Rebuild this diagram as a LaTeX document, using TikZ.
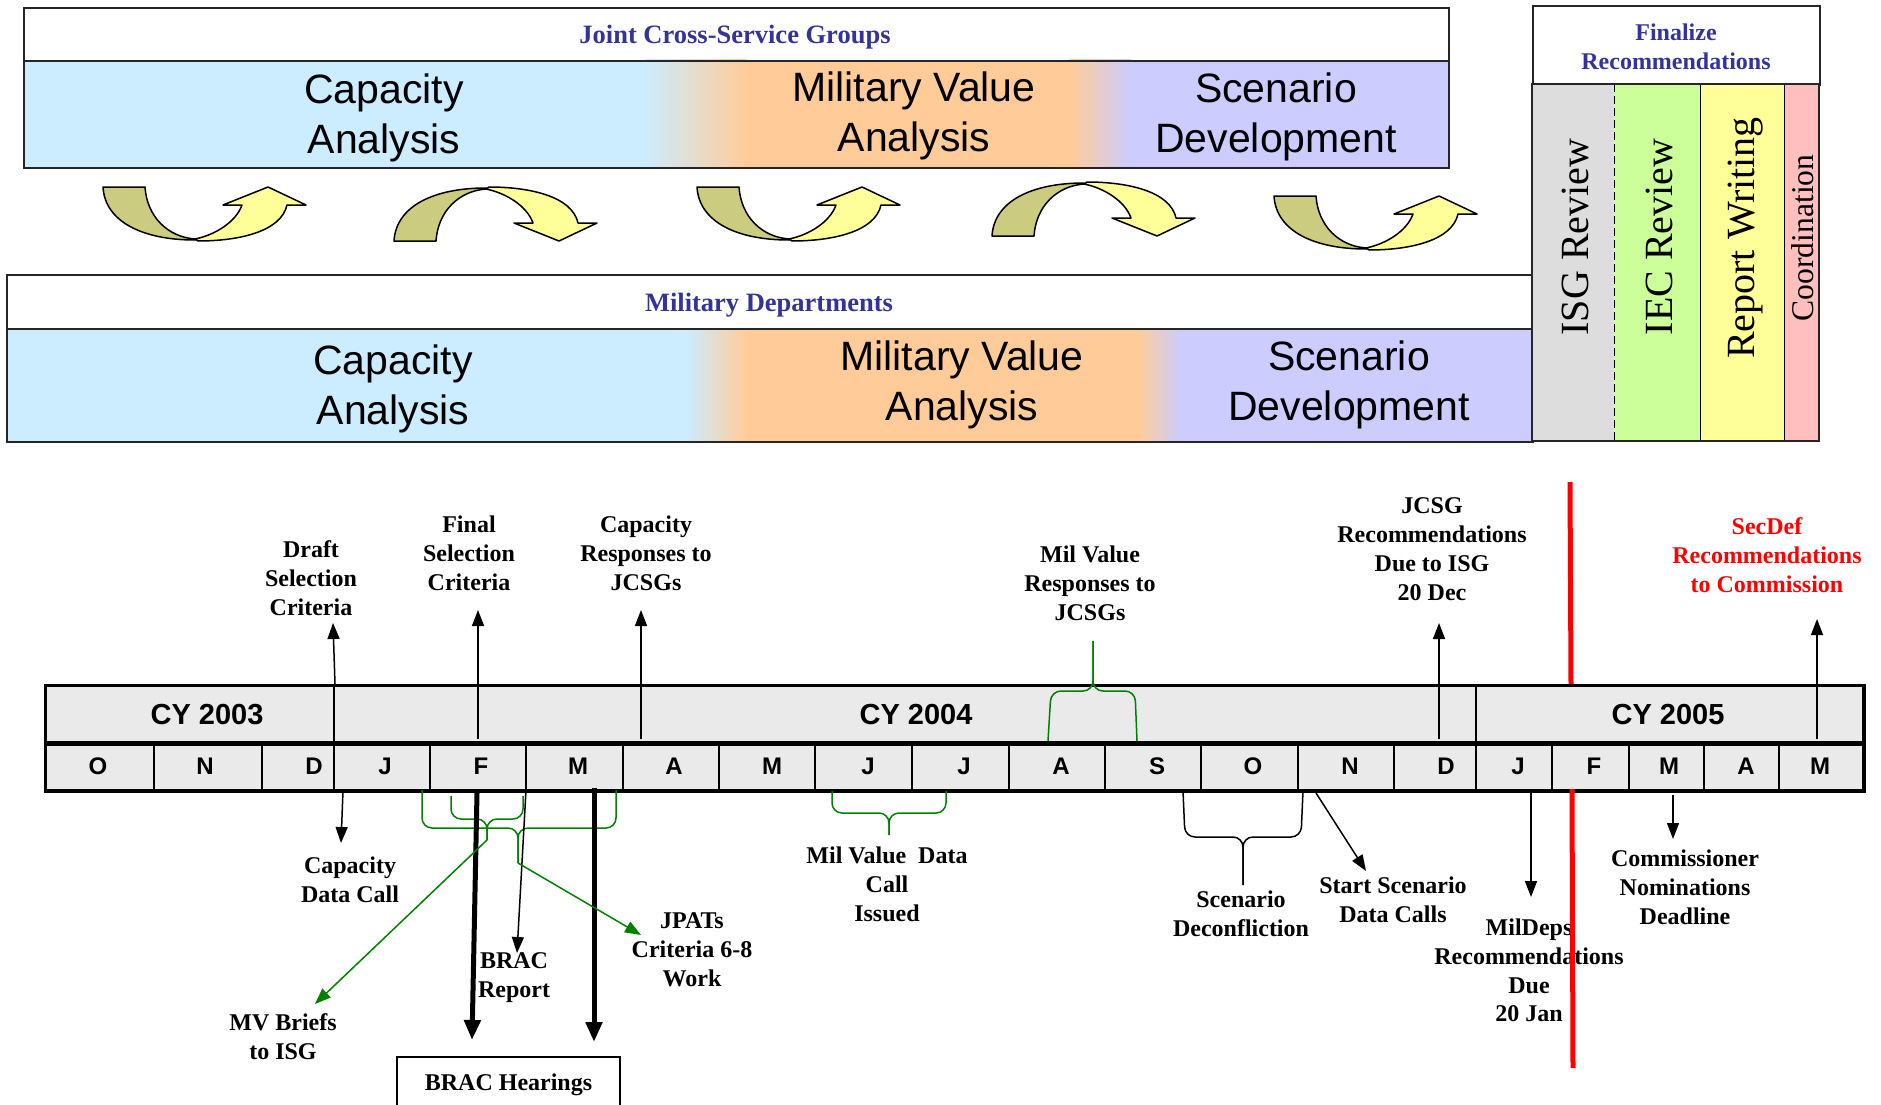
\documentclass[tikz,border=0pt]{standalone}
\usepackage{fontspec}
\setmainfont{Liberation Serif}
\newfontfamily\arialf{Liberation Sans}
\usetikzlibrary{arrows.meta}
\definecolor{hdrblue}{HTML}{333399}
\definecolor{bandblue}{HTML}{CCECFF}
\definecolor{bandorange}{HTML}{FFCC99}
\definecolor{bandlav}{HTML}{CCCCFF}
\definecolor{olivearr}{HTML}{CCCC80}
\definecolor{yellowarr}{HTML}{FFFF99}
\definecolor{isggray}{HTML}{DDDDDD}
\definecolor{iecgreen}{HTML}{CCFF99}
\definecolor{rwyellow}{HTML}{FFFF99}
\definecolor{coordpink}{HTML}{FFBFBF}
\definecolor{tlgray}{HTML}{EAEAEA}
\definecolor{brgreen}{HTML}{008000}
\newcommand\arrbody{%
  \filldraw[olivefill] (0,0) -- (42,0) .. controls (44,30) and (65,50) .. (92,52)
     -- (92,53) .. controls (40,53) and (2,35) .. (0,0) -- cycle;
  \filldraw[yellowfill] (92,52) .. controls (112,48) and (133,35) .. (139,18)
     -- (120,18) -- (165,0) -- (203,18) -- (184,18)
     .. controls (178,45) and (135,54) .. (95,54) -- cycle;}
\tikzset{
  olivefill/.style={fill=olivearr, draw=black, line width=1.5, line join=round},
  yellowfill/.style={fill=yellowarr, draw=black, line width=1.5, line join=round},
  uturnarr/.pic={\arrbody},
  overarr/.pic={\begin{scope}[shift={(0,54)},yscale=-1]\arrbody\end{scope}},
}
\begin{document}
\begin{tikzpicture}[x=1pt,y=-1pt,
  framebox/.style={draw=black!85, line width=2, inner sep=0pt, anchor=north west},
  hdrtxt/.style={text=hdrblue, font=\fontsize{26.5}{30}\selectfont\bfseries, inner sep=0pt, align=center},
  fintxt/.style={text=hdrblue, font=\fontsize{24}{29}\selectfont\bfseries, inner sep=0pt, align=center},
  phasetxt/.style={font=\arialf\fontsize{41}{50.5}\selectfont, inner sep=0pt, align=center},
  vtxt/.style={rotate=90, font=\fontsize{40}{44}\selectfont, inner sep=0pt},
  colbox/.style={inner sep=0pt, anchor=north west, minimum height=357},
  cellbox/.style={draw, line width=2, fill=tlgray, inner sep=0pt, anchor=north west},
  yrtxt/.style={font=\arialf\bfseries\fontsize{29}{32}\selectfont, inner sep=0pt},
  mtxt/.style={font=\arialf\bfseries\fontsize{24}{28}\selectfont, inner sep=0pt},
  lbl/.style={font=\fontsize{24}{28.8}\selectfont\bfseries, align=center, inner sep=0pt},
  thinarr/.style={-{Triangle[width=12pt,length=16pt]}, line width=1.5},
  thickarr/.style={-{Triangle[width=16pt,length=20pt]}, line width=5},
  greenarr/.style={-{Triangle[width=12pt,length=16pt]}, line width=1.5, draw=brgreen, fill=brgreen},
  bracegreen/.style={draw=brgreen, line width=1.5, rounded corners=10},
  braceblack/.style={draw=black, line width=1.5, rounded corners=10},
  redline/.style={draw=red, line width=5},
]
\useasboundingbox (0,0) rectangle (1881,1105);

% ---------- Joint Cross-Service Groups ----------
\node[framebox, minimum width=1425, minimum height=53] (jcsghdr) at (23,7) {};
\node[hdrtxt] (jcsgtitle) at (735,37.5) {Joint Cross-Service Groups};
\fill[bandblue] (23,60) rectangle (645.5,167);
\shade[left color=bandblue, right color=bandorange] (645,60) rectangle (746.5,167);
\fill[bandorange] (746,60) rectangle (1070.5,167);
\shade[left color=bandorange, right color=bandlav] (1070,60) rectangle (1130.5,167);
\fill[bandlav] (1130,60) rectangle (1448,167);
\node[framebox, minimum width=1425, minimum height=107] (jcsgband) at (23,60) {};
\node[phasetxt] (jcap) at (384,118) {Capacity\\Analysis};
\node[phasetxt] (jmv) at (914,116) {Military Value\\Analysis};
\node[phasetxt] (jsd) at (1276,117) {Scenario\\Development};

% ---------- curved arrows ----------
\pic (ca1) at (103,187) {uturnarr};
\pic (ca2) at (394,187) {overarr};
\pic (ca3) at (697,187) {uturnarr};
\pic (ca4) at (992,182) {overarr};
\pic (ca5) at (1274,196) {uturnarr};

% ---------- Military Departments ----------
\node[framebox, minimum width=1526, minimum height=54] (mdhdr) at (6,274) {};
\node[hdrtxt] (mdtitle) at (769,305.5) {Military Departments};
\fill[bandblue] (6,328) rectangle (686.5,441);
\shade[left color=bandblue, right color=bandorange] (686,328) rectangle (746.5,441);
\fill[bandorange] (746,328) rectangle (1138.5,441);
\shade[left color=bandorange, right color=bandlav] (1138,328) rectangle (1180.5,441);
\fill[bandlav] (1180,328) rectangle (1532,441);
\node[framebox, minimum width=1526, minimum height=113] (mdband) at (6,328) {};
\node[phasetxt] (mcap) at (393,389) {Capacity\\Analysis};
\node[phasetxt] (mmv) at (962,385) {Military Value\\Analysis};
\node[phasetxt] (msd) at (1349,385) {Scenario\\Development};

% ---------- Finalize Recommendations ----------
\node[framebox, minimum width=287, minimum height=79] (finhdr) at (1532,5) {};
\node[fintxt] (fintitle) at (1676,46.5) {Finalize\\Recommendations};
\node[colbox, fill=isggray, minimum width=82] (isgcol) at (1532,84) {};
\node[colbox, fill=iecgreen, minimum width=86] (ieccol) at (1614,84) {};
\node[colbox, fill=rwyellow, minimum width=84] (rwcol) at (1700,84) {};
\node[colbox, fill=coordpink, minimum width=35] (coordcol) at (1784,84) {};
\draw[line width=1.5, dash pattern=on 8pt off 4pt] (isgcol.north east) -- (isgcol.south east);
\draw[line width=1.5] (ieccol.north east) -- (ieccol.south east);
\draw[line width=1.5] (rwcol.north east) -- (rwcol.south east);
\draw[draw=black!85, line width=2] (isgcol.north west) rectangle (coordcol.south east);
\node[vtxt] (isgtxt) at (1575,237) {ISG Review};
\node[vtxt] (iectxt) at (1659,237) {IEC Review};
\node[vtxt] (rwtxt) at (1746,238) {Report Writing};
\node[vtxt, font=\fontsize{31.6}{35}\selectfont] (coordtxt) at (1803,238) {Coordination};

% ---------- red line (upper part) ----------
\draw[redline] (1570,482) -- (1571,686);

% ---------- timeline ----------
\node[cellbox, minimum width=288, minimum height=56] (cy03) at (45,685) {};
\node[cellbox, minimum width=1142, minimum height=56] (cy04) at (333,685) {};
\node[cellbox, minimum width=387, minimum height=56] (cy05) at (1475,685) {};
\node[yrtxt] (cy03t) at (207,715) {CY 2003};
\node[yrtxt] (cy04t) at (916,715) {CY 2004};
\node[yrtxt] (cy05t) at (1668,715) {CY 2005};
\foreach \l/\r/\t/\m/\n in {45/153/98/O/mo1, 153/261/205/N/mo2, 261/333/314/D/mo3,
   333/429/385/J/mo4, 429/525/481/F/mo5, 525/622/578/M/mo6, 622/718/674/A/mo7,
   718/814/772/M/mo8, 814/911/868/J/mo9, 911/1008/964/J/mo10, 1008/1104/1061/A/mo11,
   1104/1200/1157/S/mo12, 1200/1297/1253/O/mo13, 1297/1393/1350/N/mo14,
   1393/1475/1446/D/mo15, 1475/1551/1518/J/mo16, 1551/1628/1594/F/mo17,
   1628/1703/1669/M/mo18, 1703/1778/1746/A/mo19, 1778/1862/1820/M/mo20} {
  \node[cellbox, minimum width={\r-\l}, minimum height=48] (\n) at (\l,741) {};
  \node[mtxt] (\n t) at (\t,766) {\m};
}
\draw[line width=3] (cy03.north west) rectangle (mo20.south east);
\draw[line width=5] (cy03.south west) -- (cy05.south east);

% ---------- labels above ----------
\node[lbl] (draft) at (311,578) {Draft\\Selection\\Criteria};
\node[lbl] (finalsel) at (469,553) {Final\\Selection\\Criteria};
\node[lbl] (capresp) at (646,553) {Capacity\\Responses to\\JCSGs};
\node[lbl] (milresp) at (1090,583) {Mil Value\\Responses to\\JCSGs};
\node[lbl] (jcsgrec) at (1432,549) {JCSG\\Recommendations\\Due to ISG\\20 Dec};
\node[lbl, text=red] (secdef) at (1767,555) {SecDef\\Recommendations\\to Commission};

% ---------- labels below ----------
\node[lbl] (capdc) at (350,879.5) {Capacity\\Data Call};
\node[lbl] (mvbriefs) at (283,1036.5) {MV Briefs\\to ISG};
\node[lbl] (bracrep) at (514,977.5) {BRAC\\Report};
\node[lbl] (jpats) at (692,950) {JPATs\\Criteria 6-8\\Work};
\node[lbl] (mvdc) at (887,884.5) {Mil Value\ \ Data\\Call\\Issued};
\node[lbl] (scendec) at (1241,914) {Scenario\\Deconfliction};
\node[lbl] (startscen) at (1393,900) {Start Scenario\\Data Calls};
\node[lbl] (mildeps) at (1529,970.5) {MilDeps\\Recommendations\\Due\\20 Jan};
\node[lbl] (commiss) at (1685,887) {Commissioner\\Nominations\\Deadline};
\node[draw, line width=1.5, minimum width=223, minimum height=56, inner sep=0pt, anchor=north,
      font=\fontsize{24}{28.8}\selectfont\bfseries] (brachear) at (508.5,1056) {BRAC Hearings};

% ---------- arrow end points ----------
\coordinate (draftS) at (335,684);   \coordinate (draftE) at (333,623);
\coordinate (finalS) at (478,739);   \coordinate (finalE) at (478,610);
\coordinate (caprS) at (641,739);    \coordinate (caprE) at (641,610);
\coordinate (jcsgS) at (1439,739);   \coordinate (jcsgE) at (1439,623);
\coordinate (secS) at (1817,739);    \coordinate (secE) at (1817,619);
\coordinate (capdcS) at (343,791);   \coordinate (capdcE) at (341,843);
\coordinate (bracrS) at (526,790);   \coordinate (bracrE) at (517,953);
\coordinate (hear1S) at (477,793);   \coordinate (hear1E) at (472,1040);
\coordinate (hear2S) at (594,788);   \coordinate (hear2E) at (594,1042);
\coordinate (startS) at (1316,793);  \coordinate (startE) at (1366,871);
\coordinate (mildS) at (1531,791);   \coordinate (mildE) at (1531,897);
\coordinate (commS) at (1673,795);   \coordinate (commE) at (1673,839);
\coordinate (narrowtip) at (487,840); \coordinate (mvbE) at (315,1004);
\coordinate (widetip) at (518,863);   \coordinate (jpatsE) at (641,935);

% ---------- braces ----------
\draw[bracegreen] (1048,741) -- (1051,691) -- (1093,691) -- (1093,641);
\draw[bracegreen] (1093,641) -- (1093,691) -- (1135,691) -- (1137,741);
\draw[bracegreen] (422,790) -- (422,828) -- (518,828) -- (widetip);
\draw[bracegreen] (widetip) -- (518,828) -- (616,828) -- (616,790);
\draw[bracegreen] (451,796) -- (451,819) -- (487,819) -- (narrowtip);
\draw[bracegreen] (narrowtip) -- (487,819) -- (523,819) -- (523,796);
\draw[bracegreen] (832,791) -- (832,813) -- (889,813) -- (889,835);
\draw[bracegreen] (889,835) -- (889,813) -- (946,813) -- (946,791);
\draw[braceblack] (1183,791) -- (1185,837) -- (1243,837) -- (1243,885);
\draw[braceblack] (1243,885) -- (1243,837) -- (1301,837) -- (1303,791);

% ---------- arrows ----------
\draw[thinarr] (draftS) -- (draftE);
\draw[thinarr] (finalS) -- (finalE);
\draw[thinarr] (caprS) -- (caprE);
\draw[thinarr] (jcsgS) -- (jcsgE);
\draw[thinarr] (secS) -- (secE);
\draw[thinarr] (capdcS) -- (capdcE);
\draw[thinarr] (bracrS) -- (bracrE);
\draw[thickarr] (hear1S) -- (hear1E);
\draw[thickarr] (hear2S) -- (hear2E);
\draw[thinarr] (startS) -- (startE);
\draw[thinarr] (mildS) -- (mildE);
\draw[thinarr] (commS) -- (commE);
\draw[greenarr] (narrowtip) -- (mvbE);
\draw[greenarr] (widetip) -- (jpatsE);

% ---------- red line (lower part) ----------
\draw[redline] (1572,789) -- (1573,1068);
\end{tikzpicture}
\end{document}
